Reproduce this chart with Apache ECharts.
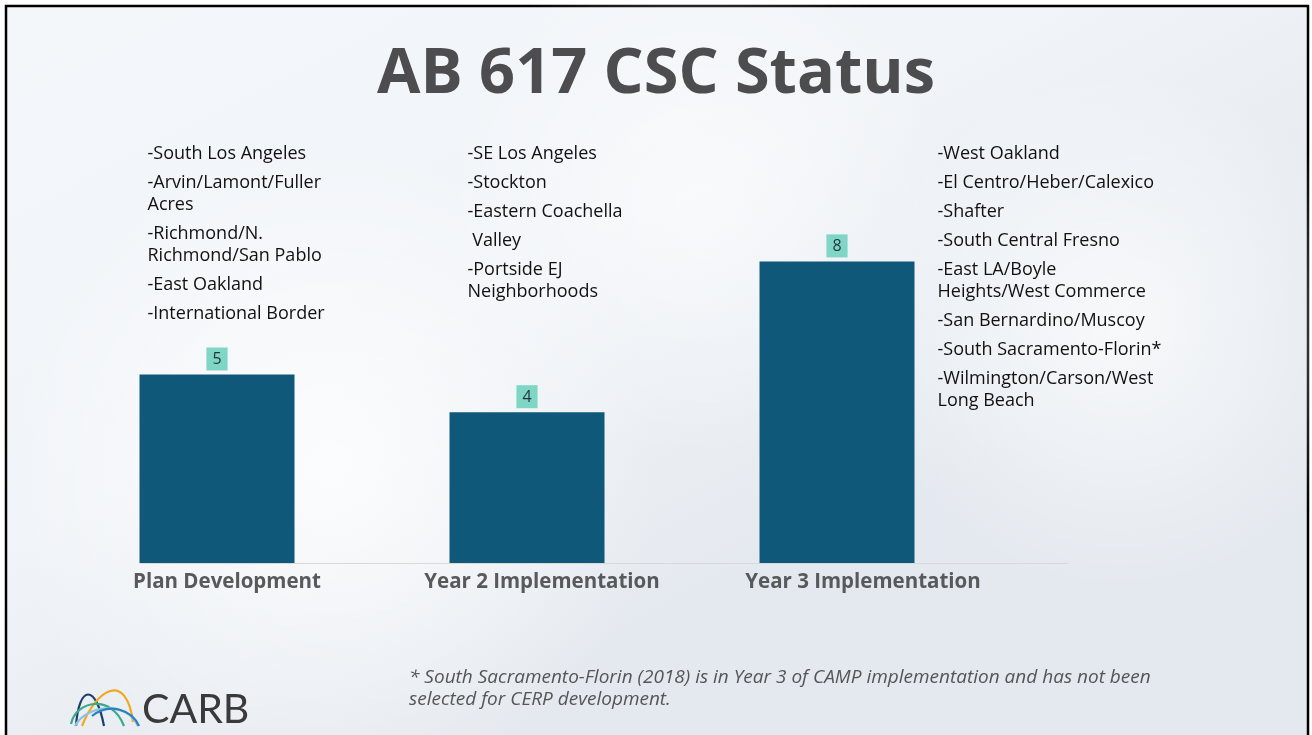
<!DOCTYPE html>
<html>
<head>
<meta charset="utf-8">
<script src="https://cdn.jsdelivr.net/npm/echarts@6/dist/echarts.min.js"></script>
<style>
  html, body { margin: 0; padding: 0; background: #fff; }
  #chart { width: 1312px; height: 735px; }
</style>
</head>
<body>
<div id="chart"></div>
<script>
// Data
const categories = ['Plan Development', 'Year 2 Implementation', 'Year 3 Implementation'];
const counts = [5, 4, 8];
const planList = [
  '-South Los Angeles',
  '-Arvin/Lamont/Fuller\nAcres',
  '-Richmond/N.\nRichmond/San Pablo',
  '-East Oakland',
  '-International Border'
];
const year2List = [
  '-SE Los Angeles',
  '-Stockton',
  '-Eastern Coachella',
  ' Valley',
  '-Portside EJ\nNeighborhoods'
];
const year3List = [
  '-West Oakland',
  '-El Centro/Heber/Calexico',
  '-Shafter',
  '-South Central Fresno',
  '-East LA/Boyle\nHeights/West Commerce',
  '-San Bernardino/Muscoy',
  '-South Sacramento-Florin*',
  '-Wilmington/Carson/West\nLong Beach'
];
const titleText = 'AB 617 CSC Status';
const footnote = '* South Sacramento-Florin (2018) is in Year 3 of CAMP implementation and has not been\nselected for CERP development.';
const logoText = 'CARB';

const FONT = '"Open Sans", Lato, sans-serif';
const LOGO_FONT = 'Lato, sans-serif';
const BAR_COLOR = '#10587a';
const LABEL_BG = '#7fd6c4';

// small shifts of the category labels, as on the slide
const labelShift = [10, 15, 26];

const chart = echarts.init(document.getElementById('chart'));

const catStyle = { fontFamily: FONT, fontSize: 20.5, fontWeight: 'bold', color: '#58595b' };

const option = {
  backgroundColor: '#fff',
  animation: false,
  title: {
    text: titleText,
    left: 'center',
    top: 39,
    textStyle: { fontFamily: FONT, fontSize: 63, fontWeight: 'bold', color: '#4d4d4f' }
  },
  grid: [
    { left: 62, width: 930, top: 186, bottom: 172 },
    { left: 140, right: 244, top: 186, bottom: 172 }
  ],
  xAxis: [
    {
      type: 'category',
      gridIndex: 0,
      data: categories,
      axisLine: { show: false },
      axisTick: { show: false },
      axisLabel: {
        margin: 9,
        formatter: (v, i) => '{p' + i + '|' + v + '}',
        rich: {
          p0: Object.assign({ padding: [0, 0, 0, labelShift[0] * 2] }, catStyle),
          p1: Object.assign({ padding: [0, 0, 0, labelShift[1] * 2] }, catStyle),
          p2: Object.assign({ padding: [0, 0, 0, labelShift[2] * 2] }, catStyle)
        }
      }
    },
    {
      type: 'category',
      gridIndex: 1,
      data: [''],
      axisLine: { show: true, lineStyle: { color: '#d9d9d9', width: 1 } },
      axisTick: { show: false },
      axisLabel: { show: false }
    }
  ],
  yAxis: [
    { type: 'value', gridIndex: 0, min: 0, max: 10, show: false },
    { type: 'value', gridIndex: 1, min: 0, max: 10, show: false }
  ],
  series: [{
    type: 'bar',
    xAxisIndex: 0,
    yAxisIndex: 0,
    data: counts,
    barWidth: 155,
    itemStyle: { color: BAR_COLOR },
    label: {
      show: true,
      position: 'top',
      distance: 4,
      backgroundColor: LABEL_BG,
      padding: [4, 6, 3, 6],
      fontFamily: FONT,
      fontSize: 16,
      color: '#1f3440'
    }
  }]
};

chart.setOption(option);

// Build the decorations after the axes exist
function listGraphics(items, x, yStart) {
  const out = [];
  let y = yStart;
  items.forEach(item => {
    const lines = item.split('\n');
    lines.forEach((line, k) => {
      out.push({
        type: 'text',
        z: 10,
        x: x,
        y: y + k * 22,
        style: {
          text: line,
          fontFamily: FONT,
          fontSize: 18,
          fill: '#111',
          verticalAlign: 'middle'
        }
      });
    });
    y += (lines.length - 1) * 22 + 29;
  });
  return out;
}

const halfBar = 155 / 2;
const c0 = chart.convertToPixel({ seriesIndex: 0 }, [0, 0]);
const c1 = chart.convertToPixel({ seriesIndex: 0 }, [1, 0]);
const c2 = chart.convertToPixel({ seriesIndex: 0 }, [2, 0]);

const arcs = [
  { shape: { x1: 76, y1: 726, cpx1: 79, cpy1: 684, cpx2: 96, cpy2: 684, x2: 104, y2: 726 }, color: '#1c3f6e' },
  { shape: { x1: 82, y1: 726, cpx1: 96, cpy1: 690, cpx2: 126, cpy2: 670, x2: 133, y2: 722 }, color: '#f2a81d' },
  { shape: { x1: 71, y1: 724, cpx1: 76, cpy1: 700, cpx2: 112, cpy2: 694, x2: 124, y2: 726 }, color: '#3aa88a' },
  { shape: { x1: 75, y1: 726, cpx1: 86, cpy1: 705, cpx2: 126, cpy2: 700, x2: 138, y2: 726 }, color: '#8cc4e0' },
  { shape: { x1: 92, y1: 716, cpx1: 110, cpy1: 702, cpx2: 132, cpy2: 710, x2: 139, y2: 726 }, color: '#2a7fc1' }
];

const graphics = [
  {
    type: 'rect',
    z: -10,
    shape: { x: 6, y: 6, width: 1302, height: 760 },
    style: {
      fill: {
        type: 'linear', x: 0, y: 0, x2: 0.3, y2: 1,
        colorStops: [
          { offset: 0, color: '#f4f7fa' },
          { offset: 0.55, color: '#f1f4f8' },
          { offset: 1, color: '#e4e9ef' }
        ]
      },
      stroke: '#000',
      lineWidth: 2.5
    }
  },
  {
    type: 'circle', z: -9, silent: true,
    shape: { cx: 330, cy: 470, r: 330 },
    style: { fill: { type: 'radial', x: 0.5, y: 0.5, r: 0.5, colorStops: [{ offset: 0, color: 'rgba(255,255,255,0.8)' }, { offset: 1, color: 'rgba(255,255,255,0)' }] } }
  },
  {
    type: 'circle', z: -9, silent: true,
    shape: { cx: 1120, cy: 330, r: 260 },
    style: { fill: { type: 'radial', x: 0.5, y: 0.5, r: 0.5, colorStops: [{ offset: 0, color: 'rgba(255,255,255,0.7)' }, { offset: 1, color: 'rgba(255,255,255,0)' }] } }
  },
  {
    type: 'circle', z: -9, silent: true,
    shape: { cx: 700, cy: 200, r: 260 },
    style: { fill: { type: 'radial', x: 0.5, y: 0.5, r: 0.5, colorStops: [{ offset: 0, color: 'rgba(255,255,255,0.55)' }, { offset: 1, color: 'rgba(255,255,255,0)' }] } }
  },
  {
    type: 'text',
    z: 10,
    x: 409,
    y: 667,
    style: {
      text: footnote,
      fontFamily: FONT,
      fontStyle: 'italic',
      fontSize: 19,
      lineHeight: 22,
      fill: '#555',
      verticalAlign: 'top'
    }
  },
  {
    type: 'text',
    z: 10,
    x: 142,
    y: 710,
    style: {
      text: logoText,
      fontFamily: LOGO_FONT,
      fontSize: 41,
      fill: '#3a3a3a',
      verticalAlign: 'middle'
    }
  }
];

arcs.forEach(a => graphics.push({
  type: 'bezierCurve',
  z: 10,
  shape: a.shape,
  style: { stroke: a.color, lineWidth: 2.2, fill: null }
}));

graphics.push(...listGraphics(planList, c0[0] - halfBar + 8, 154));
graphics.push(...listGraphics(year2List, c1[0] - halfBar + 18, 154));
graphics.push(...listGraphics(year3List, c2[0] + halfBar + 23, 154));

chart.setOption({ graphic: graphics });
</script>
</body>
</html>
